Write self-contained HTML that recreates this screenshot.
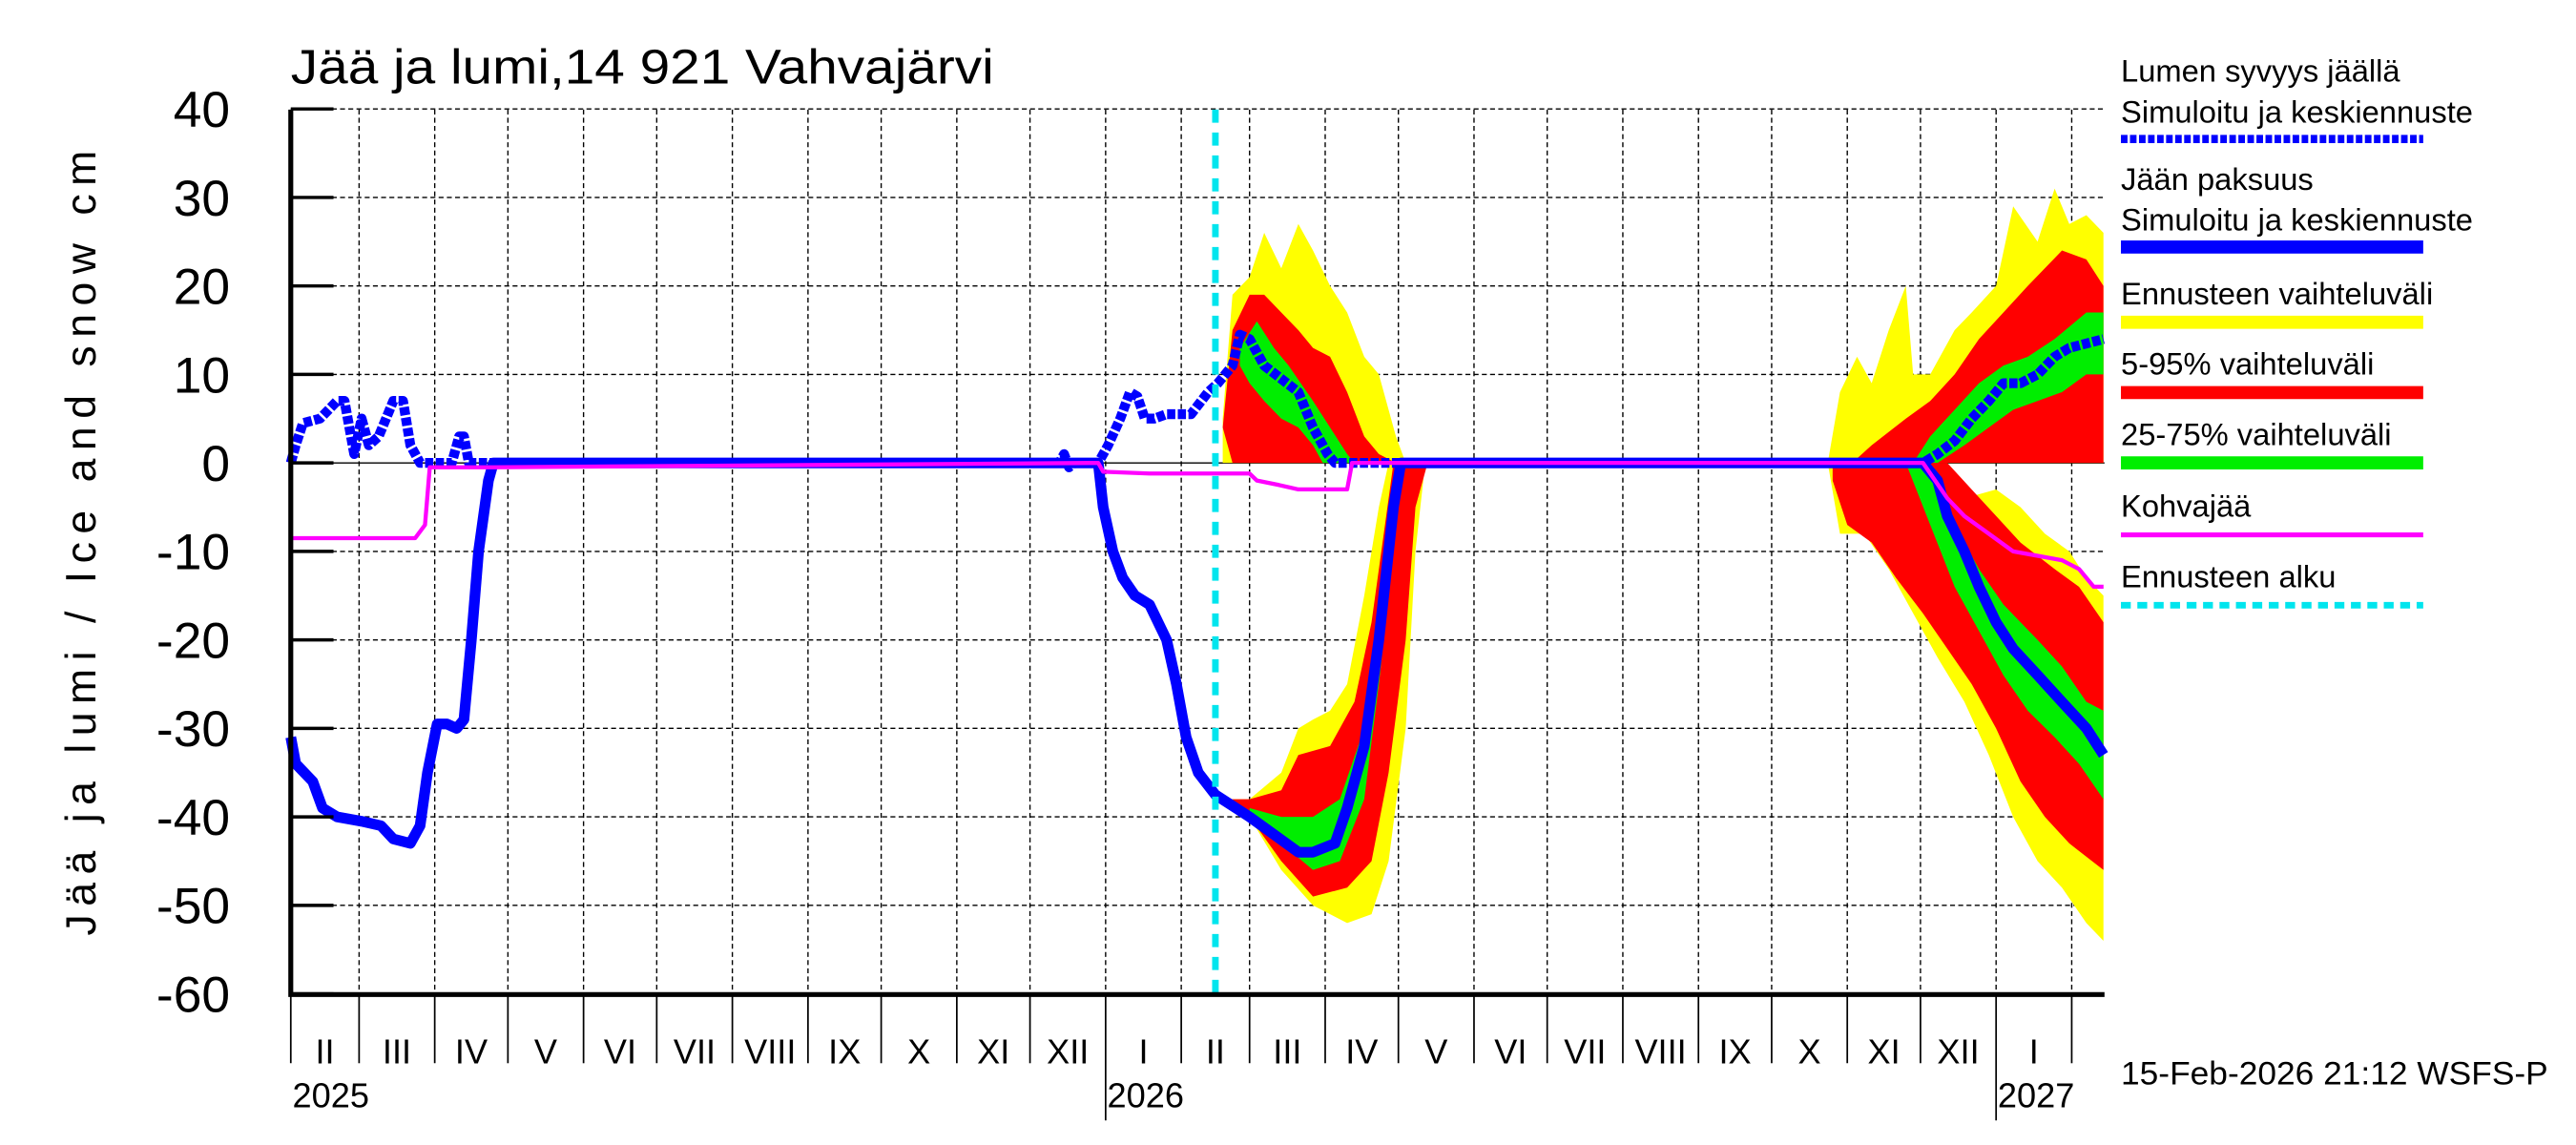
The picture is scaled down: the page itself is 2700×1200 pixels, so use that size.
<!DOCTYPE html>
<html><head><meta charset="utf-8"><style>
html,body{margin:0;padding:0;background:#fff}
svg{display:block}
text{font-family:"Liberation Sans",sans-serif;fill:#000}
</style></head><body>
<svg id="chart" width="2700" height="1200" viewBox="0 0 1568 700" preserveAspectRatio="none" xmlns="http://www.w3.org/2000/svg">
<g id="grid"></g>
<g id="bands"></g>
<g id="lines"></g>
<g id="axes"></g>
<text x="177" y="51" font-size="30" textLength="428" lengthAdjust="spacingAndGlyphs">Jää ja lumi,14 921 Vahvajärvi</text>
<text transform="translate(58,332) rotate(-90)" text-anchor="middle" font-size="26" textLength="480" lengthAdjust="spacing">Jää ja lumi / Ice and snow    cm</text>
<text x="1291" y="663" font-size="20" textLength="260" lengthAdjust="spacingAndGlyphs">15-Feb-2026 21:12 WSFS-P</text>
<g id="legend"></g>
</svg>
<script>
// days since 2025-02-01
const yTicks=[40,30,20,10,0,-10,-20,-30,-40,-50,-60];
const monthStarts=[0,28,59,89,120,150,181,212,242,273,303,334,365,393,424,454,485,515,546,577,607,638,668,699,730];
const monthLabels=["II","III","IV","V","VI","VII","VIII","IX","X","XI","XII","I","II","III","IV","V","VI","VII","VIII","IX","X","XI","XII","I"];
const yearStarts=[0,334,699];
const yearLabels=["2025","2026","2027"];
const forecastStart=379;
const iceThickness=[[0,-31],[2,-34],[9,-36],[13,-39],[19,-40],[29,-40.5],[37,-41],[42,-42.5],[49,-43],[53,-41],[56,-35],[60,-29.5],[64,-29.5],[68,-30],[71,-29],[74,-20],[77,-10],[81,-2],[83,0],[331,0],[333,-5],[337,-10],[341,-13],[346,-15],[352,-16],[359,-20],[363,-25],[367,-31],[372,-35],[379,-37.5],[393,-40],[403,-42],[413,-44],[419,-44],[428,-43],[433,-39],[440,-32],[446,-20],[452,-5],[455,0],[669,0],[675,-2],[679,-6],[686,-10],[692,-14],[699,-18],[706,-21],[716,-24],[726,-27],[736,-30],[743,-33]];
const snowDepth=[[0,0],[2,2],[5,4.5],[12,5],[19,7],[22,7],[26,1],[29,5],[32,2],[36,3],[42,7],[46,7],[49,2],[53,0],[66,0],[69,3],[71,3],[73,0],[315,0],[317,1],[319,-0.5],[321,0],[331,0],[335,2],[340,5],[344,8],[347,7.5],[350,5],[354,5],[359,5.5],[369,5.5],[376,8],[380,9],[386,11],[389,14.5],[393,14],[399,11],[406,9.5],[413,8],[419,4],[425,1],[428,0],[669,0],[675,1],[682,2.5],[689,5],[696,7],[702,9],[709,9],[716,10],[723,12],[729,13],[736,13.5],[743,14]];
const kohvajaa=[[0,-8.5],[51,-8.5],[55,-7],[57,-0.5],[83,-0.5],[331,0],[333,-1],[352,-1.2],[393,-1.2],[396,-2],[405,-2.5],[413,-3],[433,-3],[435,0],[669,0],[679,-4],[686,-6],[696,-8],[706,-10],[716,-10.5],[726,-11],[733,-12],[739,-14],[743,-14]];
const yellowSnow1Top=[[382,5],[386,19],[393,21],[399,26],[406,22],[413,27],[419,24],[426,20],[433,17],[440,12],[446,10],[453,3],[457,0]];
const redSnow1Top=[[382,4],[386,15],[393,19],[399,19],[406,17],[413,15],[419,13],[426,12],[433,8],[440,3],[446,1],[453,0]];
const greenSnow1Top=[[389,13],[396,16],[403,13],[409,11],[419,7],[426,4],[433,1],[436,0]];
const greenSnow1Bot=[[389,11],[393,9],[399,7],[406,5],[413,4],[419,2],[423,0],[436,0]];
const yellowIce1Top=[[382,-38],[393,-38],[406,-35],[413,-30],[419,-29],[426,-28],[433,-25],[440,-15],[446,-5],[450,0],[465,0]];
const yellowIce1Bot=[[382,-38],[393,-40],[406,-46],[419,-50],[433,-52],[443,-51],[450,-45],[457,-30],[461,-10],[465,0]];
const redIce1Top=[[382,-38],[393,-38],[406,-37],[413,-33],[426,-32],[436,-27],[443,-18],[448,-8],[452,0],[466,0]];
const redIce1Bot=[[382,-38],[393,-40],[406,-45],[419,-49],[433,-48],[443,-45],[450,-35],[457,-20],[461,-5],[466,0]];
const greenIce1Top=[[393,-39],[406,-40],[419,-40],[430,-38],[440,-30],[446,-18],[450,-5],[453,0]];
const greenIce1Bot=[[393,-40],[406,-43],[419,-46],[430,-45],[440,-38],[446,-25],[452,-10],[455,0]];
const yellowSnow2Top=[[630,0],[635,8],[642,12],[648,9],[655,15],[662,20],[665,10],[672,10],[682,15],[689,17],[699,20],[706,29],[716,25],[723,31],[729,27],[736,28],[743,26]];
const redSnow2Top=[[640,0],[648,2],[662,5],[672,7],[682,10],[692,14],[702,17],[712,20],[719,22],[726,24],[736,23],[743,20]];
const greenSnow2Top=[[665,0],[672,3],[682,6],[692,9],[702,11],[712,12],[723,14],[736,17],[743,17]];
const greenSnow2Bot=[[665,0],[675,0],[686,2],[696,4],[706,6],[716,7],[726,8],[736,10],[743,10]];
const yellowIce2Top=[[630,0],[655,0],[672,-3],[686,-4],[699,-3],[709,-5],[719,-8],[729,-10],[736,-13],[743,-15]];
const yellowIce2Bot=[[630,0],[635,-8],[645,-8],[655,-12],[665,-17],[675,-22],[686,-27],[696,-33],[706,-40],[716,-45],[726,-48],[736,-52],[743,-54]];
const redIce2Top=[[632,0],[679,0],[689,-3],[699,-6],[709,-9],[723,-12],[733,-14],[743,-18]];
const redIce2Bot=[[632,-2],[638,-7],[648,-9],[658,-13],[669,-17],[679,-21],[689,-25],[699,-30],[709,-36],[719,-40],[729,-43],[743,-46]];
const greenIce2Top=[[662,0],[672,0],[682,-7],[692,-12],[702,-16],[716,-20],[726,-23],[736,-27],[743,-28]];
const greenIce2Bot=[[662,0],[672,-7],[682,-14],[692,-19],[702,-24],[712,-28],[723,-31],[733,-34],[743,-38]];

const X0=177,X1=1281,YT=67,YB=608;
const xs=d=>X0+d*1.485;
const ys=v=>283-v*5.41;
const NS="http://www.w3.org/2000/svg";
function mk(tag,attrs,parent){const e=document.createElementNS(NS,tag);for(const k in attrs)e.setAttribute(k,attrs[k]);parent.appendChild(e);return e;}
const grid=document.getElementById('grid'),axes=document.getElementById('axes'),bands=document.getElementById('bands'),lines=document.getElementById('lines'),legend=document.getElementById('legend');
yTicks.forEach(v=>{
  const g=mk('line',{x1:X0,x2:X1,y1:ys(v),y2:ys(v),stroke:'#000','stroke-width':0.8,'stroke-dasharray':v===0?'none':'3,2'},grid);
  
  
  const t=mk('line',{x1:X0,x2:X0+26,y1:ys(v),y2:ys(v),stroke:'#000','stroke-width':2},axes);
  
  
  const l=mk('text',{x:140,y:ys(v)+11,'text-anchor':'end','font-size':31},axes);
  l.textContent=v;
  
  
});
monthStarts.forEach((d,i)=>{
  if(d>0&&xs(d)<X1){const g=mk('line',{x1:xs(d),x2:xs(d),y1:YT,y2:YB,stroke:'#000','stroke-width':0.8,'stroke-dasharray':'3,2'},grid);
  
  }
  if(xs(d)<X1){const s=mk('line',{x1:xs(d),x2:xs(d),y1:YB,y2:yearStarts.includes(d)&&d>0?685:650,stroke:'#000','stroke-width':1},axes);
  
  }
  if(i<monthLabels.length){const m=mk('text',{x:(xs(d)+xs(monthStarts[i+1]))/2,y:650,'text-anchor':'middle','font-size':21},axes);
  m.textContent=monthLabels[i];
  
  }
});
yearStarts.forEach((d,i)=>{
  const t=mk('text',{x:xs(d)+1,y:677,'font-size':21},axes);
  t.textContent=yearLabels[i];
  
  
});
const ax=mk('path',{d:`M${X0},${YT}V${YB}H${X1}`,fill:'none',stroke:'#000','stroke-width':3},axes);


function band(top,bot,color,name){
  const pts=top.map(p=>xs(p[0])+','+ys(p[1])).concat(bot.slice().reverse().map(p=>xs(p[0])+','+ys(p[1])));
  const p=mk('polygon',{points:pts.join(' '),fill:color},bands);
  
  
}
const zero1=[[382,0],[466,0]],zero2=[[630,0],[743,0]];
band(yellowSnow1Top,zero1,'#ffff00','yellow-band-snow-2026');
band(redSnow1Top,[[386,0],[453,0]],'#ff0000','red-band-snow-2026');
band(greenSnow1Top,greenSnow1Bot,'#00ee00','green-band-snow-2026');
band(yellowIce1Top,yellowIce1Bot,'#ffff00','yellow-band-ice-2026');
band(redIce1Top,redIce1Bot,'#ff0000','red-band-ice-2026');
band(greenIce1Top,greenIce1Bot,'#00ee00','green-band-ice-2026');
band(yellowSnow2Top,zero2,'#ffff00','yellow-band-snow-2027');
band(redSnow2Top,[[640,0],[743,0]],'#ff0000','red-band-snow-2027');
band(greenSnow2Top,greenSnow2Bot,'#00ee00','green-band-snow-2027');
band(yellowIce2Top,yellowIce2Bot,'#ffff00','yellow-band-ice-2027');
band(redIce2Top,redIce2Bot,'#ff0000','red-band-ice-2027');
band(greenIce2Top,greenIce2Bot,'#00ee00','green-band-ice-2027');
function line(data,color,w,dash,name){
  const d='M'+data.map(p=>xs(p[0]).toFixed(1)+','+ys(p[1]).toFixed(1)).join('L');
  const p=mk('path',{d:d,fill:'none',stroke:color,'stroke-width':w,'stroke-dasharray':dash,'stroke-linejoin':'round'},lines);
  
  
}
line(iceThickness,'#0000ff',6.5,'none','ice-thickness-line');
line(snowDepth,'#0000ff',6,'5,1.5','snow-depth-line');
line(kohvajaa,'#ff00ff',2.5,'none','kohvajaa-line');
const fc=mk('line',{x1:xs(forecastStart),x2:xs(forecastStart),y1:YT,y2:YB,stroke:'#00e5ee','stroke-width':4,'stroke-dasharray':'8,6'},lines);


const legendItems=[
 {t:["Lumen syvyys jäällä","Simuloitu ja keskiennuste"],y:44,c:'#0000ff',w:5,dash:'4,1.5',n:'legend-snow-depth'},
 {t:["Jään paksuus","Simuloitu ja keskiennuste"],y:110,c:'#0000ff',w:8,dash:'none',n:'legend-ice-thickness'},
 {t:["Ennusteen vaihteluväli"],y:180,c:'#ffff00',w:8,dash:'none',n:'legend-forecast-range'},
 {t:["5-95% vaihteluväli"],y:223,c:'#ff0000',w:8,dash:'none',n:'legend-5-95'},
 {t:["25-75% vaihteluväli"],y:266,c:'#00ee00',w:8,dash:'none',n:'legend-25-75'},
 {t:["Kohvajää"],y:310,c:'#ff00ff',w:3,dash:'none',n:'legend-kohvajaa'},
 {t:["Ennusteen alku"],y:353,c:'#00e5ee',w:4,dash:'6,4',n:'legend-forecast-start'}];
legendItems.forEach(it=>{
  const g=mk('g',{},legend);
  
  
  it.t.forEach((s,i)=>{const t=mk('text',{x:1291,y:it.y+i*25+6,'font-size':19},g);t.textContent=s;});
  const ly=it.y+(it.t.length-1)*25+17+(it.t.length>1?-1:0);
  mk('line',{x1:1291,x2:1475,y1:ly,y2:ly,stroke:it.c,'stroke-width':it.w,'stroke-dasharray':it.dash},g);
});
</script>
</body></html>
